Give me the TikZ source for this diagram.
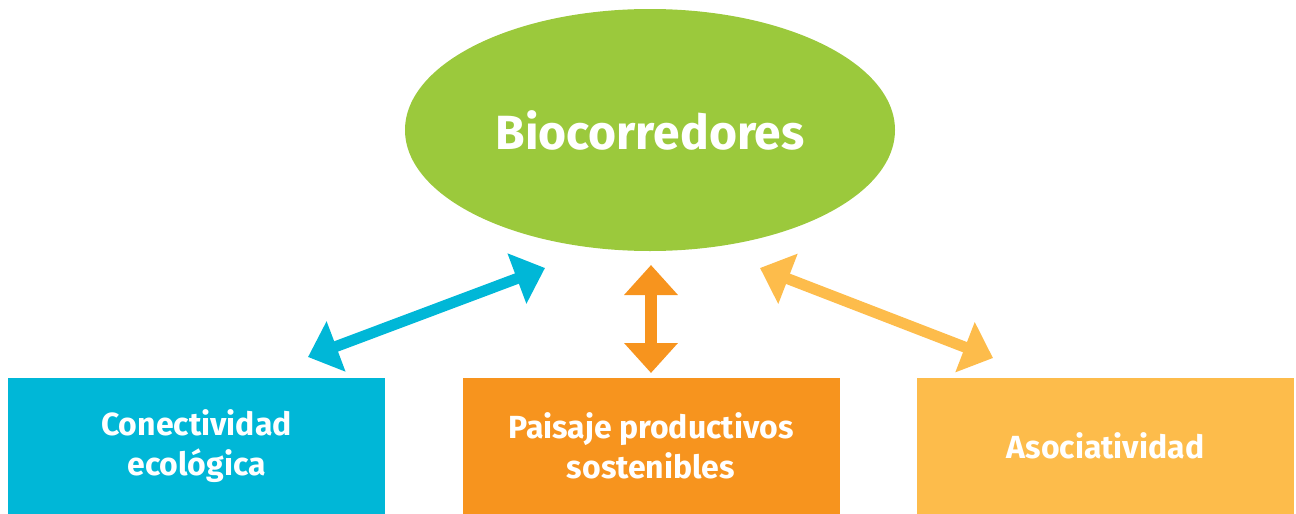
\documentclass[tikz,border=0pt]{standalone}
\usepackage{fontspec}
\setmainfont{Fira Sans}
\usetikzlibrary{arrows.meta,shapes.geometric}
\definecolor{bioverde}{HTML}{9BC93C}
\definecolor{bioazul}{HTML}{00B7D7}
\definecolor{bionaranja}{HTML}{F7941E}
\definecolor{bioamarillo}{HTML}{FDBC4B}
\tikzset{
  caja/.style={minimum width=188.5pt, minimum height=68pt, align=center,
    text=white, font=\fontsize{16}{20}\selectfont\bfseries, inner sep=0pt},
  flecha/.style={line width=5.5pt, {Triangle[length=15pt,width=26pt]}-{Triangle[length=15pt,width=26pt]}}
}
\begin{document}
\begin{tikzpicture}[x=0.5pt,y=-0.5pt]
      \useasboundingbox (0,0) rectangle (1296,514);
      \node[ellipse, fill=bioverde, minimum width=245pt, minimum height=121pt, inner sep=0pt,
        text=white, font=\fontsize{24}{28}\selectfont\bfseries] (bio) at (650,130) {Biocorredores};
      \node[caja, fill=bioazul] (eco) at (196.5,446) {Conectividad\\ecológica};
      \node[caja, fill=bionaranja] (pai) at (651,446) {Paisaje productivos\\sostenibles};
      \node[caja, fill=bioamarillo] (aso) at (1105.5,446) {Asociatividad};
      \coordinate (a1) at (308,357);
      \coordinate (a2) at (545,268);
      \coordinate (b1) at (651,265);
      \coordinate (b2) at (651,373);
      \coordinate (c1) at (760,268);
      \coordinate (c2) at (993,358);
      \begin{scope}
        \draw[flecha, bioazul] (a1) to (a2);
        \draw[flecha, bionaranja, line width=6pt] (b1) to (b2);
        \draw[flecha, bioamarillo] (c1) to (c2);
      \end{scope}
    \end{tikzpicture}
\end{document}
